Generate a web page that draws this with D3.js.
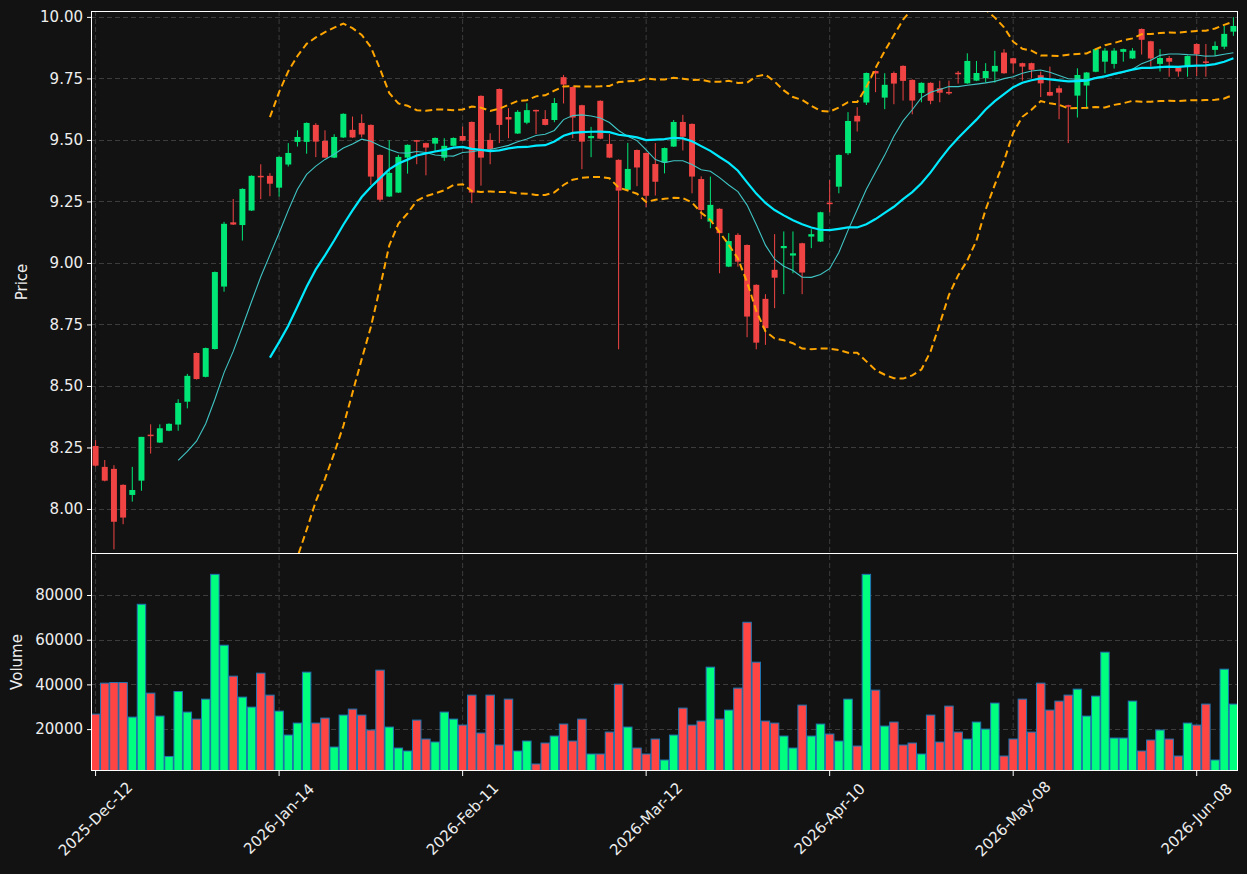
<!DOCTYPE html>
<html>
<head>
<meta charset="utf-8">
<script src="https://cdn.jsdelivr.net/npm/d3@7"></script>
<style>
  html, body { margin: 0; padding: 0; background: #121212; }
  svg { display: block; font-family: "DejaVu Sans", sans-serif; }
</style>
</head>
<body>
<div id="chart"></div>
<script>
// candles, one per trading day
var opens = [8.256,8.171,8.163,8.098,8.057,8.115,8.302,8.270,8.318,8.343,
  8.436,8.634,8.537,8.650,8.904,9.165,9.154,9.213,9.354,9.354,
  9.306,9.400,9.492,9.492,9.561,9.496,9.428,9.510,9.541,9.569,
  9.561,9.439,9.270,9.286,9.428,9.499,9.487,9.485,9.428,9.476,
  9.516,9.573,9.679,9.500,9.707,9.593,9.526,9.570,9.622,9.585,
  9.581,9.755,9.715,9.641,9.507,9.659,9.484,9.419,9.297,9.459,
  9.447,9.402,9.408,9.473,9.573,9.565,9.341,9.168,9.220,8.985,
  9.114,9.073,8.911,8.854,8.972,9.060,9.030,9.080,9.107,9.087,
  9.245,9.310,9.446,9.598,9.652,9.780,9.672,9.772,9.801,9.744,
  9.691,9.732,9.710,9.695,9.773,9.730,9.741,9.751,9.778,9.855,
  9.832,9.812,9.812,9.763,9.695,9.710,9.641,9.680,9.721,9.777,
  9.818,9.809,9.858,9.831,9.951,9.901,9.809,9.833,9.796,9.798,
  9.890,9.819,9.866,9.879,9.940];
var highs = [8.280,8.199,8.178,8.100,8.171,8.293,8.344,8.344,8.348,8.446,
  8.549,8.636,8.656,8.965,9.167,9.260,9.303,9.356,9.401,9.365,
  9.433,9.487,9.539,9.571,9.568,9.539,9.523,9.608,9.595,9.604,
  9.563,9.441,9.499,9.439,9.482,9.500,9.489,9.510,9.507,9.510,
  9.554,9.575,9.681,9.527,9.709,9.629,9.621,9.649,9.623,9.621,
  9.670,9.764,9.717,9.643,9.553,9.661,9.524,9.421,9.488,9.461,
  9.449,9.487,9.469,9.581,9.602,9.567,9.352,9.351,9.222,9.121,
  9.121,9.075,8.913,8.873,9.117,9.128,9.128,9.082,9.137,9.208,
  9.337,9.441,9.613,9.633,9.774,9.782,9.771,9.778,9.803,9.746,
  9.734,9.734,9.741,9.741,9.780,9.852,9.821,9.812,9.862,9.869,
  9.834,9.814,9.814,9.778,9.798,9.721,9.643,9.791,9.776,9.871,
  9.873,9.873,9.871,9.873,9.953,9.903,9.869,9.841,9.798,9.843,
  9.892,9.890,9.900,9.963,9.999];
var lows = [8.172,8.112,7.836,7.938,8.030,8.074,8.225,8.268,8.316,8.318,
  8.409,8.526,8.535,8.648,8.883,9.154,9.091,9.211,9.259,9.271,
  9.270,9.392,9.473,9.444,9.430,9.426,9.426,9.508,9.508,9.510,
  9.317,9.249,9.268,9.284,9.363,9.401,9.356,9.455,9.415,9.474,
  9.495,9.243,9.314,9.401,9.487,9.507,9.524,9.564,9.524,9.559,
  9.572,9.648,9.507,9.381,9.430,9.503,9.426,8.649,9.295,9.312,
  9.227,9.274,9.364,9.471,9.457,9.283,9.178,9.141,8.958,8.983,
  8.985,8.698,8.649,8.667,8.816,8.873,8.958,8.873,9.060,9.085,
  9.206,9.283,9.439,9.534,9.642,9.694,9.625,9.645,9.660,9.604,
  9.653,9.645,9.653,9.683,9.729,9.728,9.739,9.733,9.733,9.769,
  9.770,9.741,9.751,9.674,9.678,9.584,9.487,9.591,9.625,9.775,
  9.771,9.790,9.818,9.829,9.847,9.798,9.778,9.757,9.757,9.757,
  9.760,9.757,9.841,9.869,9.923];
var closes = [8.176,8.115,7.948,7.965,8.077,8.293,8.298,8.328,8.346,8.431,
  8.541,8.528,8.654,8.963,9.159,9.156,9.301,9.354,9.350,9.322,
  9.431,9.447,9.512,9.569,9.493,9.428,9.512,9.606,9.510,9.522,
  9.351,9.257,9.366,9.431,9.480,9.496,9.469,9.508,9.476,9.508,
  9.497,9.286,9.428,9.463,9.561,9.583,9.614,9.621,9.619,9.561,
  9.650,9.725,9.591,9.493,9.516,9.505,9.428,9.294,9.382,9.388,
  9.273,9.330,9.467,9.573,9.513,9.351,9.215,9.236,9.121,9.089,
  9.005,8.782,8.676,8.735,8.940,9.069,9.039,8.961,9.117,9.206,
  9.241,9.439,9.577,9.575,9.772,9.770,9.724,9.729,9.740,9.660,
  9.732,9.659,9.692,9.692,9.770,9.821,9.772,9.780,9.801,9.771,
  9.811,9.798,9.785,9.730,9.680,9.692,9.637,9.764,9.774,9.869,
  9.863,9.863,9.869,9.863,9.907,9.831,9.833,9.818,9.778,9.841,
  9.848,9.816,9.882,9.931,9.963];
var volumes = [26700,40560,40830,40830,25370,75850,36090,25820,7770,36810,
  27600,24480,33410,89250,57530,43690,34310,29840,45030,35200,
  28050,17330,22690,45470,22690,24930,11970,26270,28950,26270,
  19570,46370,20910,11520,10190,24030,15550,14210,27600,24480,
  21800,35200,18230,35200,12870,33410,10190,14650,4380,13760,
  16890,22250,14650,24480,8840,8840,18670,40110,20910,11520,
  8840,15550,6160,17330,29390,21800,23590,47710,24480,28500,
  38330,67810,49940,23590,22690,16890,11520,30730,16890,22250,
  17780,14650,33410,12420,89250,37430,21350,23140,12870,13760,
  8840,26270,14210,30290,18670,15550,23140,20010,31630,7950,
  15550,33410,18670,40560,28500,32520,35200,37880,25820,34750,
  54410,15990,15990,32520,10190,15100,19570,15550,7950,22690,
  21800,31180,6160,46810,31180];

var tickIndex = [0, 20, 40, 60, 80, 100, 120];
var tickLabels = ["2025-Dec-12", "2026-Jan-14", "2026-Feb-11", "2026-Mar-12",
                  "2026-Apr-10", "2026-May-08", "2026-Jun-08"];
var priceTicks = [8.00, 8.25, 8.50, 8.75, 9.00, 9.25, 9.50, 9.75, 10.00];
var volumeTicks = [20000, 40000, 60000, 80000];

var W = 1247, H = 874;
var left = 91, right = 1238,
    pTop = 11, pBottom = 553,
    vTop = 553, vBottom = 771;

var upCandle = "#00e676", downCandle = "#f04444",
    upVol = "#00ff7f", downVol = "#ff4444",
    gridColor = "#3c3c3c", textColor = "#eeeeee";

var n = closes.length;

// rolling stats over closes
function rolling(period, fn) {
  return closes.map(function(d, i) {
    if (i < period - 1) return null;
    return fn(closes.slice(i - period + 1, i + 1));
  });
}
var sma10 = rolling(10, d3.mean);
var sma20 = rolling(20, d3.mean);
var sd20 = rolling(20, function(w) {
  var m = d3.mean(w);
  return Math.sqrt(d3.mean(w, function(v) { return (v - m) * (v - m); }));
});
var upper = sma20.map(function(m, i) { return m == null ? null : m + 2 * sd20[i]; });
var lower = sma20.map(function(m, i) { return m == null ? null : m - 2 * sd20[i]; });

var svg = d3.select("#chart").append("svg")
    .attr("width", W)
    .attr("height", H);

svg.append("rect").attr("width", W).attr("height", H).attr("fill", "#121212");

var x = d3.scaleBand()
    .domain(d3.range(n))
    .range([left, right])
    .padding(0);
var step = x.step();
function cx(i) { return x(i) + step / 2; }

var y = d3.scaleLinear().domain([7.821, 10.024]).range([pBottom, pTop]);
var yv = d3.scaleLinear().domain([1250, 98800]).range([vBottom, vTop]);

var defs = svg.append("defs");
defs.append("clipPath").attr("id", "clipP")
  .append("rect").attr("x", left).attr("y", pTop)
  .attr("width", right - left).attr("height", pBottom - pTop);
defs.append("clipPath").attr("id", "clipV")
  .append("rect").attr("x", left).attr("y", vTop)
  .attr("width", right - left).attr("height", vBottom - vTop);

// grids
var grid = svg.append("g").attr("class", "grid")
    .attr("stroke", gridColor).attr("stroke-dasharray", "5,3").attr("stroke-width", 1);
grid.selectAll(".gx").data(tickIndex).enter().append("line")
    .attr("x1", cx).attr("x2", cx)
    .attr("y1", pTop).attr("y2", vBottom);
grid.selectAll(".gy").data(priceTicks).enter().append("line")
    .attr("x1", left).attr("x2", right)
    .attr("y1", function(d) { return Math.round(y(d)) + 0.5; })
    .attr("y2", function(d) { return Math.round(y(d)) + 0.5; });
grid.selectAll(".gv").data(volumeTicks).enter().append("line")
    .attr("x1", left).attr("x2", right)
    .attr("y1", function(d) { return Math.round(yv(d)) + 0.5; })
    .attr("y2", function(d) { return Math.round(yv(d)) + 0.5; });

// volume bars
var vw = step * 0.92;
svg.append("g").attr("clip-path", "url(#clipV)")
  .selectAll("rect").data(volumes).enter().append("rect")
    .attr("x", function(d, i) { return cx(i) - vw / 2; })
    .attr("width", vw)
    .attr("y", function(d) { return yv(d); })
    .attr("height", function(d) { return vBottom - yv(d) + 2; })
    .attr("fill", function(d, i) { return closes[i] >= opens[i] ? upVol : downVol; })
    .attr("stroke", "#1f77b4")
    .attr("stroke-width", 1);

// candles
var pg = svg.append("g").attr("clip-path", "url(#clipP)");
var cw = step * 0.65;
var candle = pg.selectAll(".candle").data(d3.range(n)).enter().append("g")
    .attr("class", "candle");
candle.append("line")
    .attr("x1", cx).attr("x2", cx)
    .attr("y1", function(i) { return y(highs[i]); })
    .attr("y2", function(i) { return y(lows[i]); })
    .attr("stroke", function(i) { return closes[i] >= opens[i] ? upCandle : downCandle; })
    .attr("stroke-width", 1);
candle.append("rect")
    .attr("x", function(i) { return cx(i) - cw / 2; })
    .attr("width", cw)
    .attr("y", function(i) { return y(Math.max(opens[i], closes[i])); })
    .attr("height", function(i) { return Math.max(1.5, Math.abs(y(opens[i]) - y(closes[i]))); })
    .attr("fill", function(i) { return closes[i] >= opens[i] ? upCandle : downCandle; });

// indicator lines
function lineOf(arr) {
  return d3.line()
    .defined(function(d) { return d != null; })
    .x(function(d, i) { return cx(i); })
    .y(function(d) { return y(d); })(arr);
}
pg.append("path").attr("d", lineOf(sma10))
    .attr("fill", "none").attr("stroke", "#40c4c4").attr("stroke-width", 1.1);
pg.append("path").attr("d", lineOf(sma20))
    .attr("fill", "none").attr("stroke", "#00eaff").attr("stroke-width", 2.2);
[upper, lower].forEach(function(band) {
  pg.append("path").attr("d", lineOf(band))
    .attr("fill", "none").attr("stroke", "#ffa500")
    .attr("stroke-width", 2).attr("stroke-dasharray", "7,4");
});

// frames
svg.append("rect").attr("x", left + 0.5).attr("y", pTop + 0.5)
    .attr("width", right - left - 1).attr("height", pBottom - pTop)
    .attr("fill", "none").attr("stroke", "#ffffff").attr("stroke-width", 1);
svg.append("rect").attr("x", left + 0.5).attr("y", vTop + 0.5)
    .attr("width", right - left - 1).attr("height", vBottom - vTop - 1)
    .attr("fill", "none").attr("stroke", "#ffffff").attr("stroke-width", 1);

// axes
function styleAxis(g) {
  g.select(".domain").remove();
  g.selectAll(".tick line").attr("stroke", "#ffffff");
  g.selectAll(".tick text").attr("fill", textColor)
    .attr("font-size", "15px").attr("font-family", "DejaVu Sans, sans-serif");
}
svg.append("g")
    .attr("transform", "translate(" + left + ",0)")
    .call(d3.axisLeft(y).tickValues(priceTicks).tickSize(4).tickPadding(4)
      .tickFormat(d3.format(".2f")))
    .call(styleAxis);
svg.append("g")
    .attr("transform", "translate(" + left + ",0)")
    .call(d3.axisLeft(yv).tickValues(volumeTicks).tickSize(4).tickPadding(4)
      .tickFormat(d3.format("d")))
    .call(styleAxis);

var xAxis = svg.append("g")
    .attr("transform", "translate(0," + vBottom + ")")
    .call(d3.axisBottom(x).tickValues(tickIndex).tickSize(5)
      .tickFormat(function(d, i) { return tickLabels[i]; }))
    .call(styleAxis);
xAxis.selectAll(".tick text")
    .attr("y", 0).attr("dy", null)
    .attr("text-anchor", "middle")
    .attr("dominant-baseline", "central")
    .attr("transform", "translate(0,48) rotate(-45)");

// axis titles
svg.append("text")
    .attr("transform", "translate(22," + (pTop + pBottom) / 2 + ") rotate(-90)")
    .attr("text-anchor", "middle").attr("dominant-baseline", "central")
    .attr("fill", textColor).attr("font-size", "15px")
    .text("Price");
svg.append("text")
    .attr("transform", "translate(17," + (vTop + vBottom) / 2 + ") rotate(-90)")
    .attr("text-anchor", "middle").attr("dominant-baseline", "central")
    .attr("fill", textColor).attr("font-size", "15px")
    .text("Volume");
</script>
</body>
</html>
